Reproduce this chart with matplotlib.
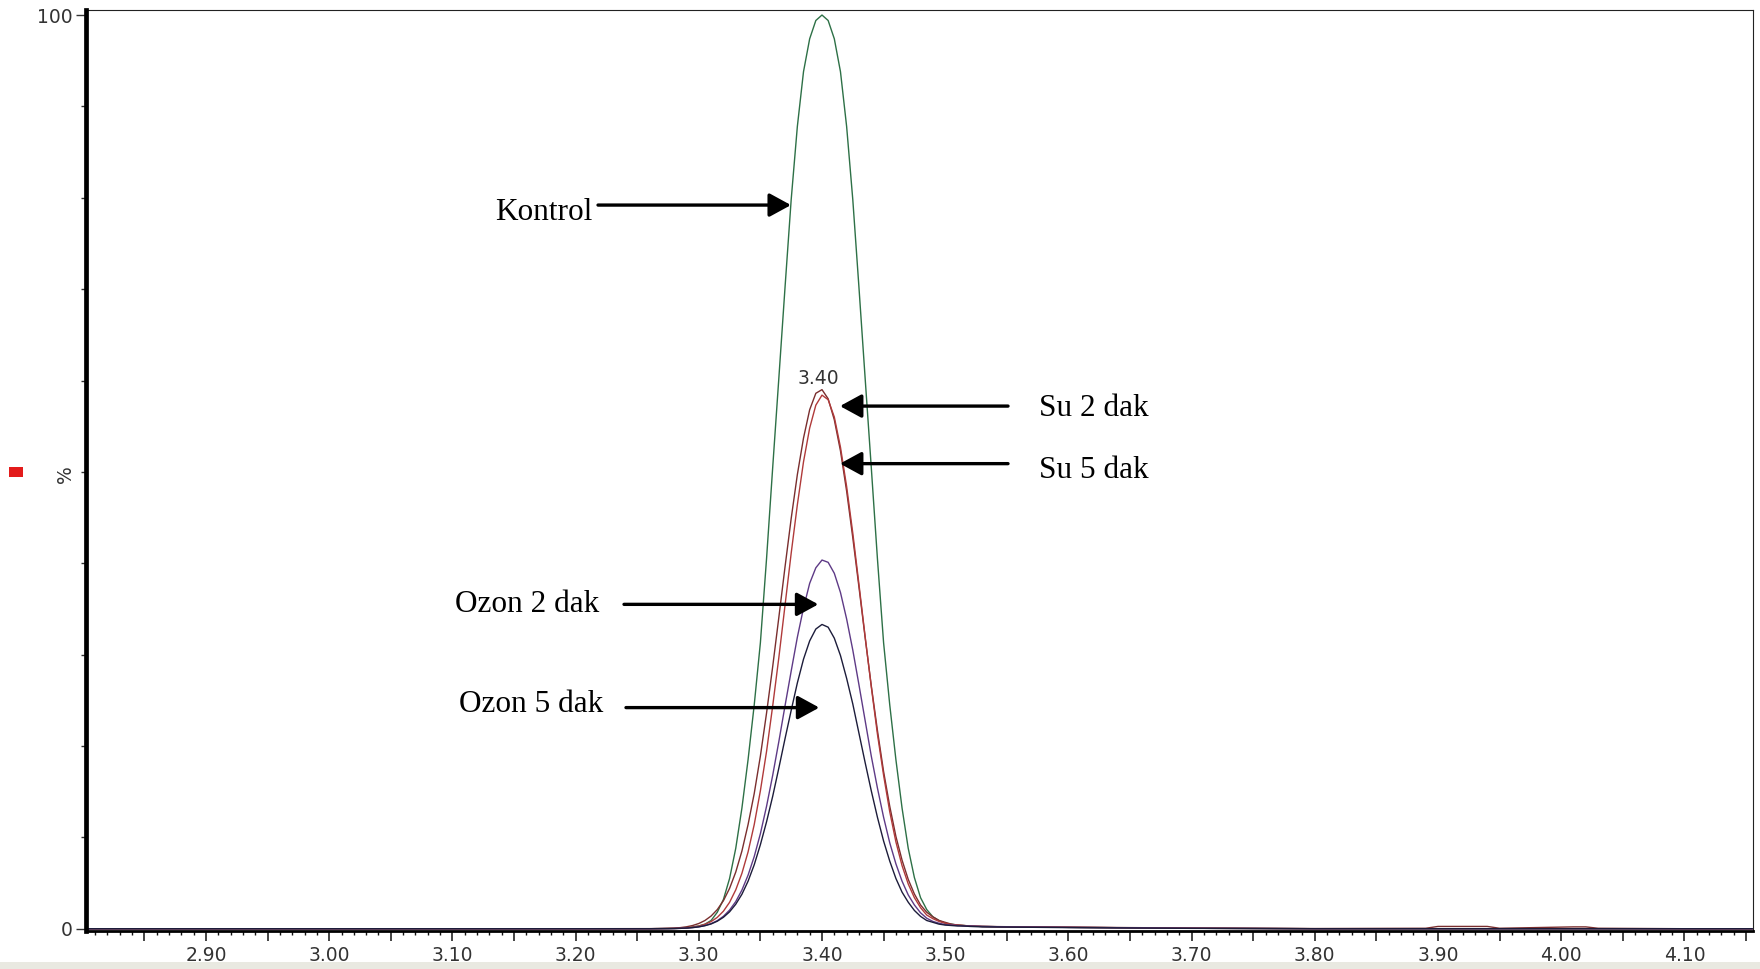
import matplotlib
matplotlib.use("Agg")
import matplotlib.pyplot as plt
import numpy as np
from matplotlib.ticker import FixedLocator, FuncFormatter
from matplotlib.patches import Rectangle

# ---------------- data (retention time, relative intensity %) ----------------
rt = [2.80, 3.20, 3.26, 3.27, 3.275,
      3.280, 3.285, 3.290, 3.295, 3.300, 3.305, 3.310, 3.315, 3.320, 3.325,
      3.330, 3.335, 3.340, 3.345, 3.350, 3.355, 3.360, 3.365, 3.370, 3.375,
      3.380, 3.385, 3.390, 3.395, 3.400, 3.405, 3.410, 3.415, 3.420, 3.425,
      3.430, 3.435, 3.440, 3.445, 3.450, 3.455, 3.460, 3.465, 3.470, 3.475,
      3.480, 3.485, 3.490, 3.495, 3.500, 3.505, 3.510, 3.515, 3.520,
      3.53, 3.55, 3.60, 3.65, 3.70, 3.80, 3.89, 3.90, 3.94, 3.95, 4.01, 4.02,
      4.03, 4.10, 4.155]

kontrol = [0, 0, 0, 0.01, 0.02,
           0.03, 0.05, 0.1, 0.2, 0.3, 0.5, 0.9, 1.8, 3.2, 5.5,
           8.8, 13.2, 18.5, 24.5, 31.3, 40.5, 50.5, 60.3, 70.2, 79.8,
           87.8, 93.8, 97.4, 99.4, 100.0, 99.4, 97.4, 93.8, 87.8, 79.8,
           70.2, 60.3, 50.5, 40.5, 31.3, 24.5, 18.5, 13.2, 8.8, 5.6,
           3.4, 2.1, 1.3, 0.9, 0.6, 0.5, 0.4, 0.35, 0.3,
           0.25, 0.2, 0.15, 0.1, 0.05, 0, 0, 0, 0, 0, 0, 0,
           0, 0, 0]

su2 = [0, 0, 0.01, 0.03, 0.05,
       0.07, 0.12, 0.21, 0.35, 0.57, 0.90, 1.39, 2.09, 3.07, 4.42,
       6.2, 8.5, 11.4, 14.8, 18.9, 23.6, 28.7, 34.1, 39.6, 44.9,
       49.7, 53.7, 56.8, 58.6, 59.0, 58.0, 55.7, 52.3, 47.9, 42.8,
       37.4, 31.9, 26.6, 21.7, 17.2, 13.4, 10.1, 7.5, 5.4, 3.8,
       2.6, 1.8, 1.3, 0.9, 0.7, 0.5, 0.4, 0.35, 0.3,
       0.25, 0.22, 0.18, 0.12, 0.08, 0.02, 0.05, 0.25, 0.25, 0.05, 0.2, 0.2,
       0.05, 0.0, 0.0]

su5 = [0, 0, 0, 0.01, 0.02,
       0.03, 0.05, 0.09, 0.17, 0.29, 0.48, 0.78, 1.24, 1.92, 2.89,
       4.25, 6.06, 8.4, 11.4, 15.1, 19.4, 24.4, 29.7, 35.4, 41.1,
       46.4, 51.1, 54.8, 57.3, 58.4, 57.9, 56.0, 52.7, 48.4, 43.3,
       37.7, 32.0, 26.5, 21.3, 16.8, 12.8, 9.5, 6.9, 4.9, 3.4,
       2.3, 1.5, 1.1, 0.8, 0.6, 0.45, 0.4, 0.35, 0.3,
       0.25, 0.2, 0.15, 0.1, 0.05, 0, 0, 0, 0, 0, 0, 0,
       0, 0, 0]

ozon2 = [0, 0, 0, 0.01, 0.01,
         0.02, 0.04, 0.07, 0.13, 0.21, 0.35, 0.56, 0.88, 1.36, 2.04,
         2.97, 4.23, 5.86, 7.9, 10.4, 13.4, 16.8, 20.5, 24.4, 28.2,
         31.9, 35.1, 37.8, 39.5, 40.35, 40.1, 38.9, 36.8, 33.9, 30.5,
         26.7, 22.8, 18.9, 15.4, 12.2, 9.4, 7.1, 5.2, 3.7, 2.6,
         1.74, 1.15, 0.8, 0.6, 0.45, 0.4, 0.35, 0.3, 0.3,
         0.25, 0.2, 0.15, 0.1, 0.05, 0, 0, 0, 0, 0, 0, 0,
         0, 0, 0]

ozon5 = [0, 0, 0, 0.01, 0.01,
         0.02, 0.04, 0.07, 0.12, 0.20, 0.33, 0.52, 0.82, 1.25, 1.85,
         2.68, 3.77, 5.2, 7.0, 9.2, 11.7, 14.5, 17.6, 20.8, 23.9,
         26.9, 29.5, 31.5, 32.8, 33.3, 33.0, 31.8, 29.9, 27.4, 24.6,
         21.4, 18.2, 15.1, 12.2, 9.6, 7.4, 5.5, 4.0, 2.9, 2.0,
         1.35, 0.9, 0.7, 0.5, 0.4, 0.35, 0.3, 0.3, 0.25,
         0.2, 0.18, 0.12, 0.08, 0.04, 0, 0, 0, 0, 0, 0, 0,
         0, 0, 0]

series_names = ["Kontrol", "Su 2 dak", "Su 5 dak", "Ozon 2 dak", "Ozon 5 dak"]
series_vals = [kontrol, su2, su5, ozon2, ozon5]
series_colors = ["#2d7046", "#7a2e2e", "#b03a3a", "#5e3a86", "#1c1c3a"]

# annotation label positions (data coords) and arrow (tail -> tip)
label_pos = {"Kontrol": (3.1346, 78.4), "Su 2 dak": (3.5761, 56.9),
             "Su 5 dak": (3.5761, 50.1), "Ozon 2 dak": (3.1021, 35.5),
             "Ozon 5 dak": (3.1054, 24.5)}
arrow_tail = {"Kontrol": (3.2182, 79.2), "Su 2 dak": (3.551, 57.2),
              "Su 5 dak": (3.551, 50.9), "Ozon 2 dak": (3.2393, 35.5),
              "Ozon 5 dak": (3.2409, 24.2)}
arrow_tip = {"Kontrol": (3.3748, 79.2), "Su 2 dak": (3.4146, 57.2),
             "Su 5 dak": (3.4146, 50.9), "Ozon 2 dak": (3.3970, 35.5),
             "Ozon 5 dak": (3.3978, 24.2)}
peak_label = "3.40"

# ---------------- figure ----------------
W, H = 1760, 969
fig = plt.figure(figsize=(W / 100, H / 100), dpi=100)
fig.patch.set_facecolor("white")

# light grey strip at the very bottom
fig.patches.append(Rectangle((0, 0), 1, 7 / H, transform=fig.transFigure,
                             facecolor="#e9e9e1", edgecolor="none", zorder=0))
# small red marker at left
fig.patches.append(Rectangle((9 / W, 1 - 477 / H), 14 / W, 10 / H,
                             transform=fig.transFigure, facecolor="#e31b1b",
                             edgecolor="none", zorder=3))

ax = fig.add_axes([86 / W, 38 / H, 1667 / W, 921 / H])
ax.set_xlim(2.8026, 4.1557)
ax.set_ylim(-0.25, 100.55)

for name, vals, col in zip(series_names, series_vals, series_colors):
    ax.plot(rt, vals, color=col, lw=1.0, solid_joinstyle="round", zorder=3)

# spines
for s in ["top", "right"]:
    ax.spines[s].set_linewidth(0.8)
    ax.spines[s].set_color("#222222")
ax.spines["left"].set_linewidth(3.4)
ax.spines["bottom"].set_linewidth(2.0)
ax.spines["left"].set_zorder(4)

# x ticks: long every 0.05 (labels every 0.1), short every 0.01
xmaj = np.round(np.arange(2.85, 4.151, 0.05), 2)
xmin = np.round(np.arange(2.81, 4.151, 0.01), 2)
ax.xaxis.set_major_locator(FixedLocator(xmaj))
ax.xaxis.set_minor_locator(FixedLocator(xmin))
ax.xaxis.set_major_formatter(FuncFormatter(
    lambda v, p: ("%.2f" % v) if abs(round(v * 10) - v * 10) < 1e-6 else ""))
ax.tick_params(axis="x", which="major", direction="out", length=7.5, width=1.1,
               color="#111111", pad=3, labelsize=13.5, labelcolor="#333333")
ax.tick_params(axis="x", which="minor", direction="out", length=3.2, width=1.0,
               color="#111111")

# y ticks
ax.yaxis.set_major_locator(FixedLocator([0, 100]))
ax.yaxis.set_minor_locator(FixedLocator(list(range(10, 100, 10))))
ax.yaxis.set_major_formatter(FuncFormatter(lambda v, p: "%d" % v))
ax.tick_params(axis="y", which="major", direction="out", length=7.5, width=1.0,
               color="#333333", pad=2, labelsize=13.5, labelcolor="#333333")
ax.tick_params(axis="y", which="minor", direction="out", length=3.5, width=1.0,
               color="#333333")

fig.text(65 / W, 1 - 474 / H, "%", rotation=90, ha="center", va="center",
         fontsize=13.5, color="#333333")

# peak label
ax.text(3.3968, 60.2, peak_label, ha="center", va="center", fontsize=13.5,
        color="#333333", zorder=5)

# annotations
for name in series_names:
    lx, ly = label_pos[name]
    ax.text(lx, ly, name, ha="left", va="center", fontsize=22.5,
            family="Liberation Serif", color="black", zorder=6)
    ax.annotate("", xy=arrow_tip[name], xytext=arrow_tail[name],
                arrowprops=dict(arrowstyle="-|>,head_length=1.1,head_width=0.6",
                                lw=2.4, color="black", shrinkA=0, shrinkB=0,
                                mutation_scale=12),
                zorder=6)

fig.savefig("out.png", dpi=100)
